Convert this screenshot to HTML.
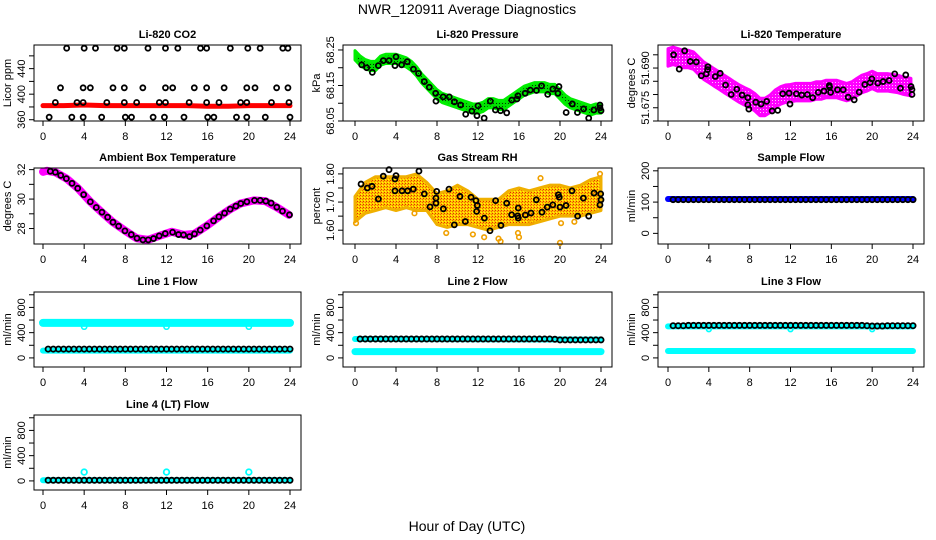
<!DOCTYPE html>
<html><head><meta charset="utf-8"><style>
html,body{margin:0;padding:0;background:#fff}
svg{display:block;font-family:"Liberation Sans",Arial,sans-serif}
</style></head><body>
<svg id="chart" width="936" height="540" viewBox="0 0 936 540" xmlns="http://www.w3.org/2000/svg">
<defs>
<pattern id="pGreen" width="3" height="3" patternUnits="userSpaceOnUse"><rect width="3" height="3" fill="#00e000"/><rect x="1" y="1" width="1" height="1" fill="#003300"/></pattern>
<pattern id="pMag" width="3" height="3" patternUnits="userSpaceOnUse"><rect width="3" height="3" fill="#ff00ff"/><rect x="1" y="1" width="1" height="1" fill="#ffc0ff"/></pattern>
<pattern id="pOrange" width="3" height="3" patternUnits="userSpaceOnUse"><rect width="3" height="3" fill="#ffc000"/><rect width="1" height="1" fill="#e03000"/><rect x="2" y="1" width="1" height="1" fill="#f07000"/><rect x="1" y="2" width="1" height="1" fill="#ffff00"/></pattern>
</defs>
<text x="467" y="14" text-anchor="middle" font-size="14">NWR_120911  Average Diagnostics</text>
<text x="467" y="531" text-anchor="middle" font-size="14">Hour of Day (UTC)</text>
</svg>
<script>
// ---------- data ----------
const xTicks=[0,4,8,12,16,20,24];
const co2H=[2.3,4.0,5.1,7.2,7.9,10.2,11.9,13.1,15.3,15.9,18.2,19.9,21.1,23.3,23.8,
 1.7,3.9,4.6,6.8,7.9,9.7,11.9,12.6,14.7,15.9,17.6,19.8,20.6,22.7,23.8,
 1.2,3.3,3.9,6.2,7.9,9.1,11.3,11.9,14.2,15.9,17.1,19.2,19.8,22.2,23.9,
 0.6,2.8,3.9,5.7,8.0,8.6,10.7,11.8,13.7,16.0,16.6,18.8,19.8,21.6,24.0];
const co2V=[472,472,472,472,472,472,472,472,472,472,472,472,472,472,472,
 410,410,410,410,410,410,410,410,410,410,410,410,410,410,410,
 387,387,387,387,387,387,387,387,387,387,387,387,387,387,387,
 364,364,364,364,364,364,364,364,364,364,364,364,364,364,364];
const co2RedH=[0,2,4,6,8,10,12,14,16,18,20,22,24];
const co2RedV=[382,382,383,382,382,382,382,382,381,381,382,382,382];

const presH=[0.65,1.14,1.69,2.28,2.76,3.32,3.9,4.0,4.55,5.1,5.7,6.2,6.76,7.25,7.87,7.9,8.6,9.2,9.7,10.3,10.8,11.4,11.9,12.0,12.6,13.2,13.7,14.2,14.8,15.3,15.8,15.9,16.6,17.1,17.7,18.2,18.8,19.3,19.8,19.9,20.6,21.2,21.7,22.3,22.8,23.3,23.9,24.0,23.9];
const presV=[68.208,68.200,68.187,68.206,68.220,68.220,68.206,68.231,68.208,68.217,68.196,68.184,68.161,68.145,68.128,68.106,68.118,68.118,68.104,68.095,68.069,68.078,68.065,68.093,68.058,68.106,68.081,68.079,68.073,68.109,68.112,68.121,68.128,68.137,68.136,68.149,68.125,68.140,68.128,68.147,68.074,68.098,68.074,68.084,68.058,68.081,68.087,68.079,68.095];
const presGreenH=[0,0.5,1,1.5,2,2.5,3,3.5,4,4.5,5,5.5,6,6.5,7,7.5,8,8.5,9,9.5,10,10.5,11,11.5,12,12.5,13,13.5,14,14.5,15,15.5,16,16.5,17,17.5,18,18.5,19,19.5,20,20.5,21,21.5,22,22.5,23,23.5,24];
const presGreenV=[68.235,68.22,68.21,68.205,68.205,68.22,68.225,68.225,68.225,68.22,68.215,68.205,68.19,68.17,68.155,68.14,68.125,68.115,68.11,68.105,68.1,68.095,68.09,68.085,68.085,68.09,68.1,68.1,68.095,68.095,68.105,68.115,68.125,68.135,68.14,68.145,68.145,68.145,68.14,68.14,68.125,68.11,68.1,68.095,68.09,68.085,68.08,68.085,68.085];

const tempH=[0.55,1.1,1.63,2.18,2.77,3.26,3.75,3.88,3.91,4.63,5.11,5.64,6.19,6.74,7.26,7.82,7.82,7.92,8.6,9.12,9.67,10.2,10.75,11.24,11.86,11.95,12.57,13.1,13.65,14.17,14.72,15.28,15.8,15.83,15.93,16.6,17.16,17.65,18.24,18.73,19.28,19.8,19.97,20.55,21.07,21.66,22.21,22.77,23.29,23.81,23.9,23.9];
const tempV=[51.695,51.6896,51.6965,51.6925,51.6923,51.6871,51.6878,51.6894,51.6905,51.6868,51.688,51.6836,51.680,51.682,51.6798,51.6788,51.6761,51.6745,51.6771,51.6764,51.6774,51.6738,51.674,51.6803,51.6805,51.6764,51.6803,51.6798,51.680,51.6788,51.6808,51.6813,51.6834,51.6828,51.6808,51.6818,51.6818,51.679,51.678,51.6809,51.6838,51.6845,51.6859,51.6843,51.6849,51.6853,51.6878,51.6824,51.6874,51.683,51.6819,51.680];
const tempMagH=[0,0.5,1,1.5,2,2.5,3,3.5,4,4.5,5,5.5,6,6.5,7,7.5,8,8.5,9,9.5,10,10.5,11,11.5,12,12.5,13,13.5,14,14.5,15,15.5,16,16.5,17,17.5,18,18.5,19,19.5,20,20.5,21,21.5,22,22.5,23,23.8];
const tempMagV=[51.694,51.6946,51.694,51.6934,51.6934,51.6928,51.6909,51.689,51.6878,51.6865,51.6853,51.684,51.6828,51.6815,51.6803,51.6793,51.6784,51.6771,51.6753,51.6753,51.6765,51.6784,51.6796,51.6803,51.6805,51.6809,51.6809,51.6809,51.6809,51.6815,51.6815,51.6821,51.6821,51.6821,51.6815,51.6809,51.6815,51.6828,51.684,51.6846,51.6855,51.6846,51.6846,51.6846,51.6843,51.684,51.6834,51.6828];

const ambH=[0.71,1.2,1.72,2.27,2.82,3.37,3.95,4.6,5.18,5.73,6.28,6.8,7.35,7.96,8.58,9.13,9.71,10.23,10.74,11.29,11.88,12.59,13.17,13.66,14.24,14.72,15.28,15.92,16.57,17.09,17.64,18.19,18.74,19.22,19.81,20.55,21.1,21.65,22.17,22.72,23.27,23.95];
const ambV=[31.89,31.82,31.61,31.39,31.07,30.73,30.3,29.82,29.43,29.11,28.77,28.43,28.16,27.84,27.59,27.34,27.23,27.23,27.32,27.5,27.66,27.75,27.59,27.57,27.45,27.64,27.89,28.18,28.52,28.8,29.05,29.32,29.52,29.7,29.82,29.91,29.91,29.86,29.73,29.45,29.18,28.93];
const ambMagH=[0,0.4,1.2,2.3,3.4,4.6,5.7,6.8,8.0,9.1,10.2,11.3,12.5,13.7,14.7,15.9,17.1,18.2,19.2,20.5,21.6,22.7,23.9];
const ambMagV=[31.85,31.92,31.82,31.39,30.73,29.82,29.11,28.43,27.84,27.34,27.23,27.5,27.78,27.57,27.64,28.18,28.8,29.32,29.7,29.91,29.86,29.45,28.93];

const rhH=[0.59,1.2,1.66,2.28,2.76,3.32,3.9,3.9,4.0,4.59,5.14,5.69,6.24,6.76,7.32,7.9,7.9,7.97,8.62,9.17,9.69,10.24,10.76,11.32,11.8,11.87,11.93,12.62,13.17,13.72,14.24,14.8,15.28,15.87,15.93,15.93,16.62,17.17,17.69,18.24,18.76,19.3,19.84,19.93,20.0,20.59,21.17,21.72,22.28,22.8,23.32,23.9,23.97,24.0];
const rhV=[1.764,1.75,1.756,1.711,1.792,1.815,1.782,1.74,1.794,1.74,1.74,1.746,1.81,1.729,1.683,1.714,1.696,1.738,1.676,1.746,1.619,1.72,1.631,1.717,1.705,1.667,1.688,1.643,1.598,1.705,1.617,1.696,1.655,1.651,1.643,1.679,1.654,1.661,1.708,1.664,1.682,1.69,1.726,1.717,1.682,1.688,1.74,1.65,1.714,1.65,1.732,1.69,1.729,1.708];
const rhCloudH=[0,1,2,3,4,5,6,7,8,9,10,11,12,13,14,15,16,17,18,19,20,21,22,23,24];
const rhCloudLo=[1.63,1.66,1.67,1.68,1.67,1.68,1.67,1.67,1.62,1.61,1.62,1.62,1.61,1.60,1.61,1.62,1.62,1.62,1.63,1.64,1.65,1.65,1.65,1.66,1.67];
const rhCloudHi=[1.72,1.77,1.79,1.79,1.79,1.79,1.80,1.77,1.73,1.74,1.76,1.74,1.71,1.71,1.71,1.74,1.75,1.74,1.75,1.76,1.76,1.75,1.76,1.78,1.79];
const rhOutH=[0.1,5.8,8.9,11.5,12.6,14.0,14.2,15.9,16.0,17.2,18.1,20.0,20.1,21.4,23.9];
const rhOutV=[1.625,1.66,1.59,1.585,1.575,1.57,1.56,1.59,1.575,1.63,1.785,1.555,1.625,1.63,1.80];

const flowH=[0.5,1,1.5,2,2.5,3,3.5,4,4.5,5,5.5,6,6.5,7,7.5,8,8.5,9,9.5,10,10.5,11,11.5,12,12.5,13,13.5,14,14.5,15,15.5,16,16.5,17,17.5,18,18.5,19,19.5,20,20.5,21,21.5,22,22.5,23,23.5,24];
const sampleV=[108,108,108,108,108,108,108,108,108,108,108,108,108,108,108,108,108,108,108,108,108,108,108,108,108,108,108,108,108,108,108,108,108,108,108,108,108,108,108,108,108,108,108,108,108,108,108,108];
const line1V=[140,140,140,140,140,140,140,140,140,140,140,140,140,140,140,140,140,140,140,140,140,140,140,140,140,140,140,140,140,140,140,140,140,140,140,140,140,140,140,140,140,140,140,140,140,140,140,140];
const line2V=[300,300,300,300,300,300,300,300,300,300,300,300,300,300,300,300,300,300,300,300,300,300,300,300,300,300,300,300,300,300,300,300,300,300,300,300,300,300,295,285,285,285,285,285,285,285,285,285];
const line3V=[510,510,510,515,515,515,515,515,515,515,515,515,515,515,515,515,515,515,515,515,515,515,515,515,515,515,515,515,515,515,515,515,515,515,515,515,515,515,510,505,505,505,510,510,510,510,510,510];
const line4V=[10,10,10,10,10,10,10,10,10,10,10,10,10,10,10,10,10,10,10,10,10,10,10,10,10,10,10,10,10,10,10,10,10,10,10,10,10,10,10,10,10,10,10,10,10,10,10,10];
const bandH=[0,24];
const sampleBlueV=[110,110];
const line1CyanHiV=[555,555];
const line1CyanLoV=[115,115];
const line2CyanHiV=[300,290];
const line2CyanLoV=[100,100];
const line3CyanHiV=[500,500];
const line3CyanLoV=[110,110];
const line4CyanV=[10,10];
const dipH=[4,12,20];
const line1DipV=[495,495,495];
const line3DipV=[455,455,455];
const line4DipV=[140,140,140];

// ---------- layout ----------
const NS="http://www.w3.org/2000/svg";
const svg=document.getElementById('chart');
const cols=[{l:34,r:301,x0:43,x24:290},{l:343,r:612,x0:355,x24:601},{l:658,r:924,x0:668,x24:913}];
const rows=[{t:45,b:121},{t:168,b:244},{t:292,b:367},{t:415,b:490}];
function mk(tag,attrs,parent){const e=document.createElementNS(NS,tag);for(const k in attrs)e.setAttribute(k,attrs[k]);(parent||svg).appendChild(e);return e;}

function panel(ci,ri,name,title,ylab,dom,ticks,labels){
  const c=cols[ci],r=rows[ri];
  const g=mk('g',{});
  
  
  const x=h=>c.x0+h*(c.x24-c.x0)/24;
  const y=v=>r.t+(dom[1]-v)/(dom[1]-dom[0])*(r.b-r.t);
  const tt=mk('text',{x:(c.l+c.r)/2,y:r.t-7,'text-anchor':'middle','font-size':'11','font-weight':'bold'},g);
  tt.textContent=title;
  
  
  const yl=mk('text',{transform:`translate(${c.l-23},${(r.t+r.b)/2}) rotate(-90)`,'text-anchor':'middle','font-size':'11'},g);
  yl.textContent=ylab;
  
  
  const xa=mk('g',{stroke:'#000','stroke-width':'1'},g);
  
  
  xTicks.forEach(h=>{
    mk('line',{x1:x(h),x2:x(h),y1:r.b,y2:r.b+5},xa);
    const t=mk('text',{x:x(h),y:r.b+19,'text-anchor':'middle','font-size':'11',stroke:'none'},xa);
    t.textContent=String(h);
  });
  const ya=mk('g',{stroke:'#000','stroke-width':'1'},g);
  
  
  ticks.forEach((v,i)=>{
    mk('line',{x1:c.l-5,x2:c.l,y1:y(v),y2:y(v)},ya);
    if(labels[i]){
      const t=mk('text',{transform:`translate(${c.l-9},${y(v)}) rotate(-90)`,'text-anchor':'middle','font-size':'11',stroke:'none'},ya);
      t.textContent=labels[i];
    }
  });
  const marks=mk('g',{},g);
  
  
  const box=mk('rect',{x:c.l,y:r.t,width:c.r-c.l,height:r.b-r.t,fill:'none',stroke:'#000','stroke-width':'1'},g);
  
  
  return {x,y,g:marks};
}
function pts(p,H,V,color,rad,sw,nm){
  H.forEach((h,i)=>{
    const e=mk('circle',{cx:p.x(h),cy:p.y(V[i]),r:rad,fill:'none',stroke:color,'stroke-width':sw},p.g);
    
    
  });
}
function thick(p,H,V,color,w,nm){
  const e=mk('polyline',{points:H.map((h,i)=>p.x(h)+','+p.y(V[i])).join(' '),fill:'none',stroke:color,'stroke-width':w,'stroke-linecap':'round','stroke-linejoin':'round'},p.g);
  
  
}
function cloud(p,H,Lo,Hi,fill,edge,nm){
  const up=H.map((h,i)=>p.x(h)+','+p.y(Hi[i]));
  const dn=H.map((h,i)=>p.x(h)+','+p.y(Lo[i])).reverse();
  const e=mk('polygon',{points:up.concat(dn).join(' '),fill:fill,stroke:edge,'stroke-width':'3','stroke-linejoin':'round'},p.g);
  
  
}
function centerCloud(p,H,V,half,fill,edge,nm){
  cloud(p,H,V.map(v=>v-half),V.map(v=>v+half),fill,edge,nm);
}

let p=panel(0,0,'co2','Li-820 CO2','Licor ppm',[358,477],[360,380,400,420,440,460],['360','','400','','440','']);
thick(p,co2RedH,co2RedV,'#ff0000',5,'co2-red-series');
pts(p,co2H,co2V,'#000',2.5,1.8,'co2-point');
p=panel(1,0,'pressure','Li-820 Pressure','kPa',[68.05,68.264],[68.05,68.10,68.15,68.20,68.25],['68.05','','68.15','','68.25']);
centerCloud(p,presGreenH,presGreenV,0.013,'url(#pGreen)','#00ee00','pressure-green-cloud');
pts(p,presH,presV,'#000',2.5,1.8,'pressure-point');
p=panel(2,0,'li820-temp','Li-820 Temperature','degrees C',[51.670,51.6987],[51.670,51.675,51.680,51.685,51.690,51.695],['','51.675','','','51.690','']);
centerCloud(p,tempMagH,tempMagV,0.0033,'url(#pMag)','#ff00ff','temp-magenta-cloud');
pts(p,tempH,tempV,'#000',2.5,1.8,'temp-point');
p=panel(0,1,'ambient','Ambient Box Temperature','degrees C',[26.95,32.11],[28,29,30,31,32],['28','','30','','32']);
thick(p,ambMagH,ambMagV,'#ff00ff',8,'ambient-magenta-series');
pts(p,ambH,ambV,'#000',2.5,1.8,'ambient-point');
p=panel(1,1,'rh','Gas Stream RH','percent',[1.551,1.821],[1.60,1.65,1.70,1.75,1.80],['1.60','','1.70','','1.80']);
cloud(p,rhCloudH,rhCloudLo,rhCloudHi,'url(#pOrange)','#f0b000','rh-orange-cloud');
pts(p,rhOutH,rhOutV,'#f0a000',2.3,1.6,'rh-orange-point');
pts(p,rhH,rhV,'#000',2.5,1.8,'rh-point');
p=panel(2,1,'sample-flow','Sample Flow','ml/min',[-34,209],[0,50,100,150,200],['0','','100','','200']);
thick(p,bandH,sampleBlueV,'#0000ff',6,'sample-blue-series');
pts(p,flowH,sampleV,'#000',2.6,1.8,'sample-point');
const fT=[0,200,400,600,800,1000],fL=['0','','400','','800',''],fD=[-144,1044];
p=panel(0,2,'line1','Line 1 Flow','ml/min',fD,fT,fL);
thick(p,bandH,line1CyanHiV,'#00ffff',8,'line1-cyan-upper');
thick(p,bandH,line1CyanLoV,'#00ffff',6,'line1-cyan-lower');
pts(p,dipH,line1DipV,'#00ffff',2.6,1.6,'line1-cyan-point');
pts(p,flowH,line1V,'#000',2.6,1.8,'line1-point');
p=panel(1,2,'line2','Line 2 Flow','ml/min',fD,fT,fL);
thick(p,bandH,line2CyanHiV,'#00ffff',6,'line2-cyan-upper');
thick(p,bandH,line2CyanLoV,'#00ffff',7,'line2-cyan-lower');
pts(p,flowH,line2V,'#000',2.6,1.8,'line2-point');
p=panel(2,2,'line3','Line 3 Flow','ml/min',fD,fT,fL);
thick(p,bandH,line3CyanHiV,'#00ffff',6,'line3-cyan-upper');
thick(p,bandH,line3CyanLoV,'#00ffff',6,'line3-cyan-lower');
pts(p,dipH,line3DipV,'#00ffff',2.4,1.6,'line3-cyan-point');
pts(p,flowH,line3V,'#000',2.6,1.8,'line3-point');
p=panel(0,3,'line4','Line 4 (LT) Flow','ml/min',fD,fT,fL);
thick(p,bandH,line4CyanV,'#00ffff',6,'line4-cyan-series');
pts(p,dipH,line4DipV,'#00ffff',2.8,1.8,'line4-cyan-point');
pts(p,flowH,line4V,'#000',2.6,1.8,'line4-point');
</script>
</body></html>
